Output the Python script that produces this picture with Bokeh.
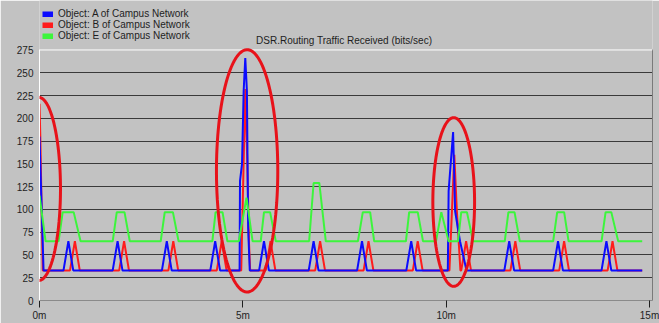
import numpy as np
from bokeh.plotting import figure
from bokeh.models import (Range1d, FixedTicker, LinearAxis, Legend, LegendItem,
                          PolyAnnotation, Span, Label)
from bokeh.embed import file_html
from bokeh.resources import INLINE

# ---------------- data (time in minutes, bits/sec) ----------------
series_names = ["Object: A of Campus Network",
                "Object: B of Campus Network",
                "Object: E of Campus Network"]

a_time = [0.00, 0.02, 0.10,
          0.59, 0.71, 0.83,
          1.80, 1.92, 2.04,
          3.01, 3.13, 3.25,
          4.20, 4.32, 4.44,
          4.92, 4.93, 4.98, 5.02, 5.06, 5.10, 5.13, 5.17,
          5.40, 5.52, 5.64,
          6.62, 6.74, 6.86,
          7.81, 7.93, 8.05,
          9.02, 9.14, 9.26,
          10.04, 10.06, 10.17, 10.22, 10.34, 10.50,
          11.43, 11.55, 11.67,
          12.63, 12.75, 12.87,
          13.82, 13.94, 14.06,
          14.82]
a_bits = [180, 150, 33,
          33, 65, 33,
          33, 65, 33,
          33, 65, 33,
          33, 65, 33,
          33, 131, 150, 230, 266, 230, 80, 33,
          33, 65, 33,
          33, 65, 33,
          33, 65, 33,
          33, 65, 33,
          33, 120, 185, 98, 65, 33,
          33, 65, 33,
          33, 65, 33,
          33, 65, 33,
          33]

b_time = [0.00, 0.02, 0.08,
          0.75, 0.87, 0.99,
          1.96, 2.08, 2.20,
          3.17, 3.29, 3.41,
          4.36, 4.48, 4.60,
          4.96, 5.06, 5.11, 5.15, 5.18,
          5.56, 5.68, 5.80,
          6.78, 6.90, 7.02,
          7.97, 8.09, 8.21,
          9.18, 9.30, 9.42,
          10.08, 10.20, 10.26, 10.35,
          10.37, 10.49, 10.61,
          11.58, 11.70, 11.82,
          12.78, 12.90, 13.02,
          13.97, 14.09, 14.21,
          14.82]
b_bits = [216, 180, 33,
          33, 65, 33,
          33, 65, 33,
          33, 65, 33,
          33, 65, 33,
          33, 232, 150, 65, 33,
          33, 65, 33,
          33, 65, 33,
          33, 65, 33,
          33, 65, 33,
          33, 160, 100, 33,
          33, 65, 33,
          33, 65, 33,
          33, 65, 33,
          33, 65, 33,
          33]

e_time = [0.00, 0.15,
          0.47, 0.57, 0.84, 1.01,
          1.80, 1.90, 2.09, 2.22,
          2.98, 3.08, 3.28, 3.42,
          4.25, 4.33, 4.50, 4.62,
          4.90, 5.09, 5.24,
          5.44, 5.52, 5.67, 5.81,
          6.63, 6.74, 6.88, 7.04,
          7.83, 7.95, 8.13, 8.23,
          9.01, 9.09, 9.30, 9.43,
          9.75, 9.88, 10.06,
          10.29, 10.37, 10.51, 10.66,
          11.44, 11.53, 11.68, 11.81,
          12.63, 12.73, 12.90, 13.01,
          13.82, 13.92, 14.06, 14.23,
          14.82]
e_bits = [115, 65,
          65, 97, 97, 65,
          65, 97, 97, 65,
          65, 97, 97, 65,
          65, 97, 97, 65,
          65, 113, 65,
          65, 97, 97, 65,
          65, 129, 129, 65,
          65, 97, 97, 65,
          65, 97, 97, 65,
          65, 97, 65,
          65, 97, 97, 65,
          65, 97, 97, 65,
          65, 97, 97, 65,
          65, 97, 97, 65,
          65]

y_ticks = [0, 25, 50, 75, 100, 125, 150, 175, 200, 225, 250, 275]
x_ticks = [0, 5, 10, 15]
x_tick_labels = ["0m", "5m", "10m", "15m"]
title_text = "DSR.Routing Traffic Received (bits/sec)"

# ---------------- styling ----------------
BG = "#c2c2c2"
TXT = "#1e1e1e"
FONT = "Liberation Sans"
C_A, C_B, C_E = "#0c0cff", "#ff1c1c", "#3cf53c"
X_END = 15.073
Y_TOP = 329.3

p = figure(width=659, height=323, output_backend="svg", toolbar_location=None,
           x_range=Range1d(0, X_END), y_range=Range1d(0, Y_TOP),
           min_border_left=39, min_border_right=7, min_border_top=0, min_border_bottom=23,
           background_fill_color=BG, border_fill_color=BG, outline_line_color=None)

# axes
p.yaxis.ticker = FixedTicker(ticks=y_ticks)
p.yaxis.bounds = (0, 275)
p.yaxis.axis_line_color = "white"
p.yaxis.major_tick_in = 0
p.yaxis.major_tick_out = 0
p.yaxis.minor_tick_line_color = None
p.yaxis.major_label_standoff = 6
p.yaxis.major_label_text_font_size = "10px"
p.yaxis.major_label_text_font = FONT
p.yaxis.major_label_text_color = TXT

p.xaxis.ticker = FixedTicker(ticks=x_ticks)
p.xaxis.major_label_overrides = {t: l for t, l in zip(x_ticks, x_tick_labels)}
p.xaxis.bounds = (0, X_END)
p.xaxis.axis_line_color = "#8a8a8a"
p.xaxis.major_tick_in = 0
p.xaxis.major_tick_out = 7
p.xaxis.major_tick_line_color = TXT
p.xaxis.minor_tick_line_color = None
p.xaxis.major_label_standoff = 2
p.xaxis.major_label_text_font_size = "10px"
p.xaxis.major_label_text_font = FONT
p.xaxis.major_label_text_color = TXT

right_axis = LinearAxis(ticker=FixedTicker(ticks=[]), bounds=(0, 275),
                        axis_line_color="#7a7a7a", major_tick_in=0, major_tick_out=0,
                        minor_tick_line_color=None, major_label_standoff=0)
p.add_layout(right_axis, "right")
p.add_layout(Span(location=275, dimension="width", line_color="white", line_width=1))

# grid
p.xgrid.visible = False
p.ygrid.ticker = FixedTicker(ticks=y_ticks[1:-1])
p.ygrid.grid_line_color = "#3a3a3a"
p.ygrid.grid_line_width = 1

# series
p.line(b_time, b_bits, line_color=C_B, line_width=2)
p.line(a_time, a_bits, line_color=C_A, line_width=2)
p.line(e_time, e_bits, line_color=C_E, line_width=2)

# legend (square swatches from thick, empty-valued lines)
swatches = [p.line([np.nan], [np.nan], line_color=c, line_width=6) for c in (C_A, C_B, C_E)]
legend = Legend(items=[LegendItem(label=n, renderers=[r]) for n, r in zip(series_names, swatches)],
                location=(3, 259), orientation="vertical", padding=0, margin=0, spacing=0,
                label_height=10, glyph_height=6, glyph_width=11, label_standoff=5,
                background_fill_alpha=0, border_line_color=None,
                label_text_font_size="10px", label_text_font=FONT, label_text_color=TXT)
p.add_layout(legend)

# title
p.add_layout(Label(x=7.49, y=285.0, text=title_text, text_align="center", text_baseline="middle",
                   text_font_size="10px", text_font=FONT, text_color=TXT))

# red hand-drawn ellipses (annotation)
ellipses = [(-0.016, 122.5, 0.532, 100.5),
            (5.105, 142.3, 0.754, 133.0),
            (10.185, 108.1, 0.513, 92.6)]
theta = np.linspace(0, 2 * np.pi, 120)
for cx, cy, rx, ry in ellipses:
    p.add_layout(PolyAnnotation(xs=list(cx + rx * np.cos(theta)), ys=list(cy + ry * np.sin(theta)),
                                fill_color=None, fill_alpha=0, line_color="#e8121a",
                                line_alpha=1.0, line_width=3))

open("out.html", "w").write(file_html(p, INLINE))
